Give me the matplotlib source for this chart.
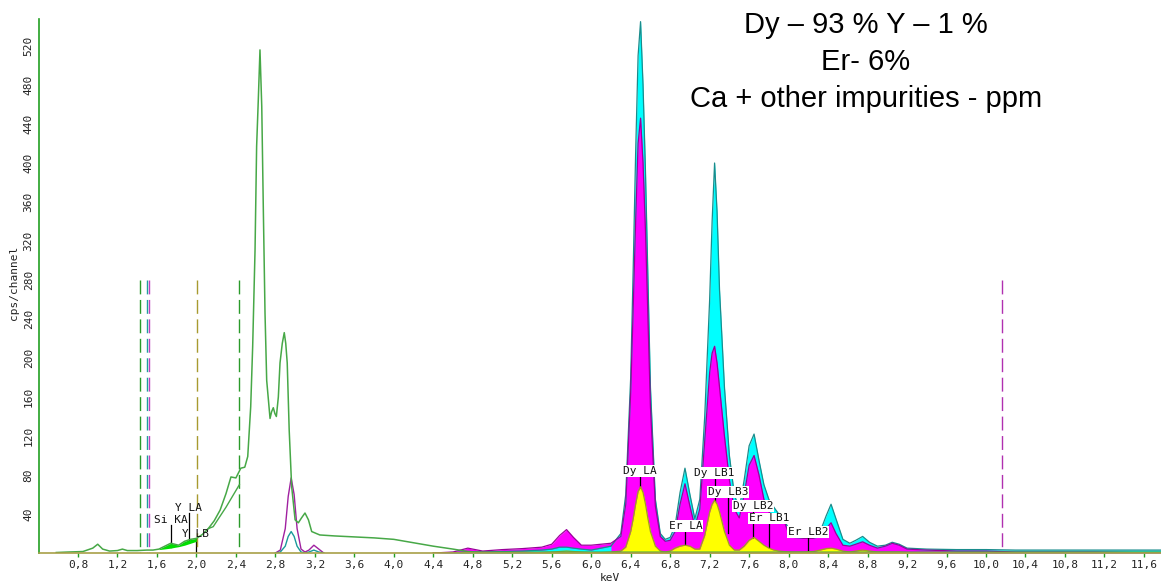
import numpy as np
import matplotlib
matplotlib.use("Agg")
import matplotlib.pyplot as plt
from matplotlib.ticker import FuncFormatter

# ---------------- spectrum data (keV, cps/channel) ----------------
# measured spectrum (green trace)
kev_total = [0.58, 0.70, 0.85, 0.95, 1.00, 1.05, 1.12, 1.20, 1.25, 1.30,
             1.40, 1.50, 1.56, 1.62, 1.68, 1.74, 1.78, 1.82, 1.88, 1.94,
             2.00, 2.06, 2.12, 2.18, 2.24, 2.30, 2.35, 2.40, 2.45, 2.49,
             2.52, 2.55, 2.57, 2.594, 2.61, 2.627, 2.644, 2.662, 2.678, 2.695,
             2.712, 2.746, 2.762, 2.779, 2.795, 2.81, 2.83, 2.847, 2.87, 2.89,
             2.905, 2.92, 2.94, 2.965, 3.00, 3.033, 3.065, 3.10, 3.135, 3.168,
             3.25, 3.40, 3.60, 3.80, 4.00, 4.20, 4.40, 4.60, 4.75, 4.90,
             5.50, 6.50, 8.00, 10.00, 11.77]
cps_total = [0.5, 1, 1.5, 5, 9, 4, 2, 2.5, 4, 2.5,
             2.5, 3, 3, 4, 7, 10, 9, 8, 12, 14,
             15, 19, 25, 33, 44, 61, 78, 77, 87, 88,
             99, 150, 212, 311, 417, 465, 516, 458, 352, 246,
             177, 138, 145, 149, 143, 140, 160, 195, 215, 226,
             215, 195, 126, 68, 34, 31, 36, 41, 34, 22,
             18.5, 17.5, 16.5, 15.5, 14, 10.5, 7, 4, 1.5, 0.8,
             0.8, 0.8, 0.8, 0.8, 0.8]

# fitted background under the low-energy region
kev_bkg = [2.12, 2.17, 2.30, 2.435]
cps_bkg = [25, 27, 47, 70]

# Si K / Y L peak areas above the local background
kev_siy = [1.62, 1.68, 1.74, 1.78, 1.82, 1.88, 1.94, 2.00]
cps_siy_bg = [3.5, 4.2, 5, 5.8, 6.5, 8, 10, 12]

# secondary traces around 3 keV
kev_mid = [2.80, 2.85, 2.90, 2.93, 2.96, 2.99, 3.02, 3.06, 3.10, 3.14, 3.19, 3.24, 3.29]
cps_mid_magenta = [0, 3, 25, 58, 77, 60, 25, 4, 1, 3, 8, 4, 0]
cps_mid_cyan = [0, 1, 7, 17, 22, 17, 7, 1, 0, 1, 3, 1, 0]

# Dy / Er L-line region
kev_l = [4.40, 4.60, 4.75, 4.90, 5.10, 5.30, 5.50, 5.60, 5.68, 5.75,
         5.82, 5.90, 6.00, 6.10, 6.20, 6.30, 6.35, 6.40, 6.425, 6.45,
         6.475, 6.50, 6.525, 6.55, 6.575, 6.60, 6.65, 6.70, 6.75, 6.80,
         6.85, 6.90, 6.95, 7.00, 7.05, 7.10, 7.15, 7.20, 7.225, 7.25,
         7.275, 7.30, 7.35, 7.40, 7.45, 7.50, 7.55, 7.60, 7.65, 7.70,
         7.75, 7.80, 7.85, 7.90, 7.95, 8.00, 8.05, 8.15, 8.25, 8.32,
         8.38, 8.43, 8.48, 8.55, 8.62, 8.68, 8.75, 8.82, 8.90, 8.98,
         9.05, 9.12, 9.20, 9.40, 9.70, 10.00, 10.30, 10.70, 11.10, 11.50,
         11.77]
cps_cyan = [0, 0.5, 1, 1, 1.5, 2, 3, 4, 6, 6,
            5, 4, 3, 5, 7, 20, 60, 180, 290, 410,
            510, 545, 480, 390, 280, 170, 55, 20, 14, 16,
            28, 62, 87, 60, 35, 55, 140, 260, 340, 400,
            350, 270, 170, 100, 60, 45, 75, 110, 122, 95,
            70, 55, 47, 40, 35, 25, 20, 18, 18, 22,
            38, 50, 35, 14, 10, 13, 17, 11, 7, 8,
            11, 9, 5, 4, 3.5, 3.5, 3, 3, 3, 3,
            3]
cps_magenta = [0, 1, 5, 2, 3.5, 4.5, 6, 9, 18, 24,
               16, 8, 8, 9, 10, 17, 50, 165, 250, 340,
               420, 446, 400, 330, 240, 150, 48, 17, 12, 13,
               22, 50, 71, 48, 27, 45, 115, 185, 205, 212,
               195, 170, 120, 75, 45, 36, 60, 90, 100, 80,
               55, 42, 37, 36, 34, 20, 16, 15, 15, 17,
               25, 31, 20, 8, 7, 9, 11.5, 8, 5, 7,
               10, 8, 4, 3, 2, 2, 1, 1, 1, 0.5,
               0.5]
cps_yellow = [0, 0, 0, 0, 0, 0, 0.5, 1, 1.5, 2,
              1.5, 1, 0.5, 0.5, 1, 2, 6, 22, 35, 50,
              63, 68, 62, 50, 35, 22, 7, 2, 1, 2,
              5, 7, 8, 7, 4, 4, 18, 42, 50, 54,
              50, 42, 22, 8, 3, 3, 7, 13, 16, 12,
              8, 5, 3, 2, 1.5, 1, 1, 1, 1.5, 3,
              4.5, 5, 4, 2, 1, 2, 3, 2, 1, 1,
              1, 1, 0.5, 0, 0, 0, 0, 0, 0, 0,
              0]

# identified lines
line_names = ["Si KA", "Y LA", "Y LB", "Dy LA", "Er LA",
              "Dy LB1", "Dy LB3", "Dy LB2", "Er LB1", "Er LB2"]
line_kev = [1.74, 1.92, 1.995, 6.495, 6.955, 7.25, 7.39, 7.64, 7.80, 8.20]

# region-of-interest markers
roi_kev = [1.428, 1.499, 1.523, 2.009, 2.435, 10.165]
roi_colors = ["#2a9a2a", "#1f9f9f", "#c040c0", "#a89a30", "#2a9a2a", "#b030b0"]

x_ticks = [0.8, 1.2, 1.6, 2.0, 2.4, 2.8, 3.2, 3.6, 4.0, 4.4, 4.8, 5.2, 5.6,
           6.0, 6.4, 6.8, 7.2, 7.6, 8.0, 8.4, 8.8, 9.2, 9.6, 10.0, 10.4,
           10.8, 11.2, 11.6]
y_ticks = [40, 80, 120, 160, 200, 240, 280, 320, 360, 400, 440, 480, 520]

# ---------------- figure ----------------
W, H = 1161, 583
fig = plt.figure(figsize=(W / 100, H / 100), dpi=100)
ax = fig.add_axes([38.5 / W, 30 / H, 1 - 38.5 / W, 534 / H])
ax.set_xlim(0.4, 11.773)
ax.set_ylim(0, 547.7)

mono = "DejaVu Sans Mono"

kl = np.array(kev_l)
cy = np.array(cps_cyan)
mg = np.array(cps_magenta)
ye = np.array(cps_yellow)

# stacked fills: at every channel the smaller trace is drawn in front
ax.fill_between(kl, 0, cy, color="#00ffff", lw=0, zorder=2)
ax.fill_between(kl, 0, mg, color="#ff00ff", lw=0, zorder=3)
ax.fill_between(kl, 0, cy, where=cy <= mg, interpolate=True,
                color="#00ffff", lw=0, zorder=4)
ax.plot(kl, cy, color="#1a8c8c", lw=0.9, zorder=4.5)
ax.plot(kl, mg, color="#9a009a", lw=0.9, zorder=4.6)

# line markers sit above the Dy/Er fills, below the yellow trace
label_y = [34, 46, 19.5, 84, 27.7, 82, 62.6, 48.2, 35.4, 21.5]
marker_bottom = [6.5, 11, 0, 0, 5, 0, 21, 8, 6, 0]
for name, k, ly, mb in zip(line_names, line_kev, label_y, marker_bottom):
    ax.plot([k, k], [mb, ly - 5], color="black", lw=0.9, zorder=4.8)
    boxed = name.startswith(("Dy", "Er"))
    ax.text(k, ly, name, ha="center", va="center", fontsize=8, family=mono,
            color="#111111", zorder=8,
            bbox=dict(facecolor="white", edgecolor="none", pad=0.6) if boxed else None)

ax.fill_between(kl, 0, ye, color="#ffff00", lw=0, zorder=5)
ax.plot(kl, ye, color="#a0a020", lw=0.9, zorder=5.5)

# traces around 3 keV
ax.plot(kev_mid, cps_mid_magenta, color="#a020a0", lw=1.0, zorder=6)
ax.plot(kev_mid, cps_mid_cyan, color="#1a9a9a", lw=1.0, zorder=6)

# Si / Y peak areas
siy_top = [cps_total[kev_total.index(k)] for k in kev_siy]
ax.fill_between(kev_siy, cps_siy_bg, siy_top, color="#00dd00", lw=0, zorder=6)

# measured spectrum and background
ax.plot(kev_total, cps_total, color="#47a847", lw=1.1, zorder=7)
ax.plot(kev_bkg, cps_bkg, color="#47a847", lw=1.0, zorder=7)

# region-of-interest markers, dashed from the top down
for k, c in zip(roi_kev, roi_colors):
    ax.plot([k, k], [280, 0], color=c, lw=1.0, dashes=(10, 4), zorder=6.5)

# axes styling
for s in ("top", "right"):
    ax.spines[s].set_visible(False)
ax.spines["left"].set_color("#22a022")
ax.spines["left"].set_linewidth(1.2)
ax.spines["bottom"].set_color("#a8a048")
ax.spines["bottom"].set_linewidth(1.2)
ax.spines["bottom"].set_zorder(9)

ax.set_xticks(x_ticks)
ax.xaxis.set_major_formatter(FuncFormatter(lambda v, p: f"{v:.1f}".replace(".", ",")))
ax.tick_params(axis="x", direction="out", length=3.2, width=1, color="#22a022",
               pad=1.5, labelsize=8, labelcolor="#222222")
ax.set_yticks(y_ticks)
ax.tick_params(axis="y", length=0, pad=3.5, labelsize=8, labelcolor="#222222")
for lab in ax.get_xticklabels() + ax.get_yticklabels():
    lab.set_family(mono)
for lab in ax.get_yticklabels():
    lab.set_rotation(90)
    lab.set_va("center")

fig.text(14 / W, 1 - 283 / H, "cps/channel", rotation=90, ha="center", va="center",
         fontsize=8, family=mono, color="#222222")
fig.text(610 / W, 1 - 578 / H, "keV", ha="center", va="center",
         fontsize=8, family=mono, color="#222222")

# composition note
title_font = dict(ha="center", va="baseline", fontsize=21, family="Liberation Sans",
                  color="black")
fig.text(866 / W, 1 - 33 / H, "Dy – 93 % Y – 1 %", **title_font)
fig.text(866 / W, 1 - 70 / H, "Er- 6%", **title_font)
fig.text(866 / W, 1 - 107 / H, "Ca + other impurities - ppm", **title_font)

fig.savefig("out.png", dpi=100, facecolor="white")
